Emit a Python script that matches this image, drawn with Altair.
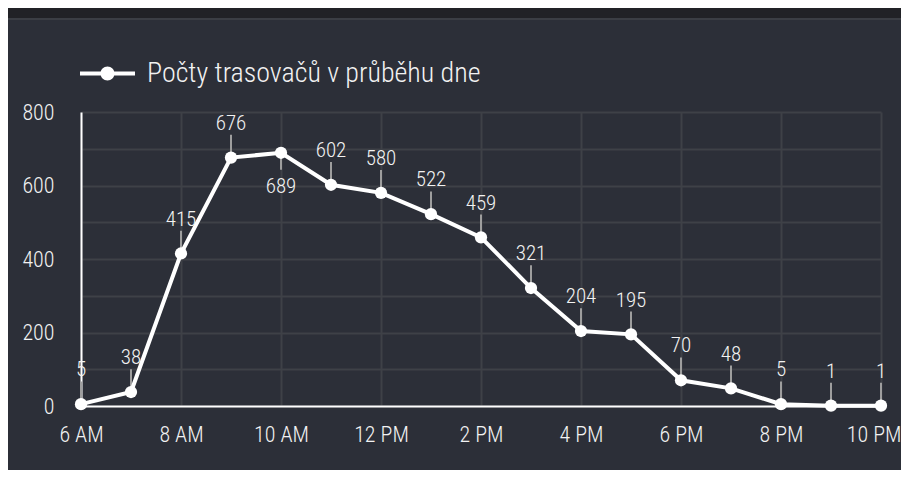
import altair as alt
import pandas as pd
import numpy as np

# ---- data ----
HOURS = [6, 7, 8, 9, 10, 11, 12, 13, 14, 15, 16, 17, 18, 19, 20, 21, 22]
COUNTS = [5, 38, 415, 676, 689, 602, 580, 522, 459, 321, 204, 195, 70, 48, 5, 1, 1]
SERIES = "Počty trasovačů v průběhu dne"
X_TICKS = [6, 8, 10, 12, 14, 16, 18, 20, 22]
X_LABELS = ["6 AM", "8 AM", "10 AM", "12 PM", "2 PM", "4 PM", "6 PM", "8 PM", "10 PM"]
Y_TICKS = [0, 100, 200, 300, 400, 500, 600, 700, 800]

# ---- style ----
PANEL = "#2c2f38"
STRIP = "#212226"
BORDER = "#3b3e44"
GRID = "#3e4147"
TEXT = "#f2f2f2"
LEADER = "#9e9e9e"
FONT = "Roboto Condensed, Roboto"
WEIGHT = {"expr": "350"}

df = pd.DataFrame({"hour": HOURS, "count": COUNTS})
df["series"] = SERIES
direction = np.where(df["count"] == df["count"].max(), -1, 1)
df["lead_end"] = df["count"] + np.where(direction > 0, 62, -46)
df["label_y"] = df["count"] + direction * 92

label_arr = "[" + ",".join("'" + s + "'" for s in X_LABELS) + "]"
last_tick = X_TICKS[-1]

x_axis = alt.Axis(
    values=X_TICKS, labelExpr=f"{label_arr}[(datum.value - 6) / 2]", title=None,
    grid=True, gridColor=GRID, gridWidth=2, domainColor="white", domainWidth=2,
    ticks=False, tickSize=0, labelFont=FONT, labelFontSize=22, labelColor=TEXT,
    labelFontWeight=WEIGHT,
    labelPadding=18, labelFlush=False, labelOverlap=False,
    labelAlign={"condition": {"test": f"datum.value == {last_tick}", "value": "right"}, "value": "center"},
    labelOffset={"condition": {"test": f"datum.value == {last_tick}", "value": 20}, "value": 0},
)
y_axis = alt.Axis(
    values=Y_TICKS, labelExpr="datum.value % 200 === 0 ? datum.label : ''", title=None,
    grid=True, gridColor=GRID, gridWidth=2, domainColor="white", domainWidth=2,
    ticks=False, tickSize=0, labelFont=FONT, labelFontSize=22, labelColor=TEXT,
    labelFontWeight=WEIGHT,
    labelPadding=27, labelFlush=False, labelOverlap=False,
)
x_scale = alt.Scale(domain=[6, 22], nice=False, zero=False)
y_scale = alt.Scale(domain=[0, 800], nice=False)

X = alt.X("hour:Q", scale=x_scale, axis=x_axis)

base = alt.Chart(df)

frame = pd.DataFrame({"k": [0]})
top_strip = alt.Chart(frame).mark_rect(fill=STRIP, stroke=BORDER, strokeWidth=2).encode(
    x=alt.value(-90), x2=alt.value(860), y=alt.value(-120), y2=alt.value(-93)
)

leaders = base.mark_rule(color=LEADER, strokeWidth=2).encode(
    x=X, y=alt.Y("count:Q", scale=y_scale, axis=y_axis), y2="lead_end:Q"
)
line = base.mark_line(color="white", strokeWidth=4).encode(
    x=X, y=alt.Y("count:Q", scale=y_scale, axis=y_axis)
)

SYMBOL = ("M-1,-0.073H1V0.073H-1Z "
          "M0.2545,0A0.2545,0.2545,0,1,1,-0.2545,0A0.2545,0.2545,0,1,1,0.2545,0Z")

points = base.mark_point(filled=True, size=150, opacity=1).encode(
    x=X, y=alt.Y("count:Q", scale=y_scale, axis=y_axis),
    color=alt.Color(
        "series:N", scale=alt.Scale(range=["#ffffff"]),
        legend=alt.Legend(
            title=None, orient="none", legendX=-1, legendY=-66, padding=0,
            symbolType=SYMBOL, symbolSize=3025, symbolStrokeWidth=0, symbolOpacity=1,
            labelFont=FONT, labelFontSize=28, labelColor=TEXT, labelOffset=12,
            labelFontWeight=WEIGHT, labelLimit=600,
        ),
    ),
)
labels = base.mark_text(font=FONT, fontSize=21, fontWeight=WEIGHT, color=TEXT,
                        baseline="middle", align="center").encode(
    x=X, y=alt.Y("label_y:Q", scale=y_scale, axis=y_axis), text="count:Q"
)

chart = alt.layer(top_strip, leaders, line, points, labels).properties(
    width=800, height=294,
    autosize=alt.AutoSizeParams(type="none"),
    padding={"left": 73, "top": 104, "right": 20, "bottom": 64},
    background=PANEL,
).configure_view(stroke=None)

chart.save("out.html", embed_options={"renderer": "svg", "actions": False})
